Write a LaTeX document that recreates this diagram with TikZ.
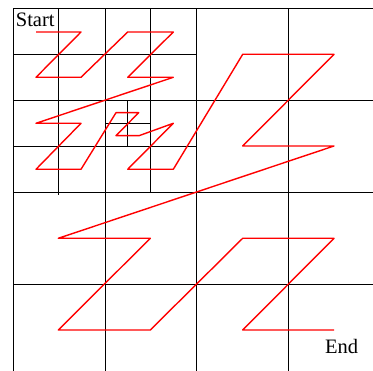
\documentclass[tikz,border=0pt]{standalone}
\usepackage{fontspec}
\setmainfont{Liberation Serif}
\begin{document}
\begin{tikzpicture}[x=1pt,y=-1pt,
  gridline/.style={black, line width=1.9pt},
  curve/.style={red, line width=1.4pt, line join=round},
  lbl/.style={inner sep=0pt, anchor=base west, font=\fontsize{20.5}{24}\selectfont}]
\useasboundingbox (0,0) rectangle (373,371);
\begin{scope}
\clip (0,0) rectangle (373,371);
% big grid
\foreach \x in {13.5,105.5,196.5,288.5} \draw[gridline] (\x,8.5) -- (\x,380);
\foreach \y in {8.5,100.5,192.5,284.5} \draw[gridline] (13.5,\y) -- (381,\y);
% small grid in the top-left quarter
\draw[gridline] (58.5,8.5) -- (58.5,195.5);
\draw[gridline] (150.5,8.5) -- (150.5,192.5);
\draw[gridline] (13.5,54.5) -- (196.5,54.5);
\draw[gridline] (13.5,146.5) -- (196.5,146.5);
% finest subdivision
\draw[gridline] (127.5,100.5) -- (127.5,146.5);
\draw[gridline] (105.5,123.5) -- (150.5,123.5);
\end{scope}
% Z-order curve
\coordinate (p1) at (36,32);
\draw[curve] (p1) -- (81,32) -- (36,77.3) -- (81,77.3)
  -- (127.7,32) -- (173.3,32) -- (127.7,77.3) -- (173.3,77.3)
  -- (36,123.3) -- (81,123.3) -- (36,169.3) -- (81,169.3)
  -- (116,112.7) -- (138.7,112.7) -- (116,135.7) -- (139,135.7)
  -- (173.3,123.3) -- (127.7,169.3) -- (173.3,169.3)
  -- (242.7,54.3) -- (334,54.3) -- (242.7,146) -- (334,146)
  -- (58.3,238.3) -- (150.3,238.3) -- (58.3,330) -- (150.3,330)
  -- (242.7,238.3) -- (334,238.3) -- (242.7,330) -- (334,330) coordinate (pend);
\node[lbl] (start) at (15.7,26.7) {Start};
\node[lbl] (end) at (325,353.3) {End};
\end{tikzpicture}
\end{document}
